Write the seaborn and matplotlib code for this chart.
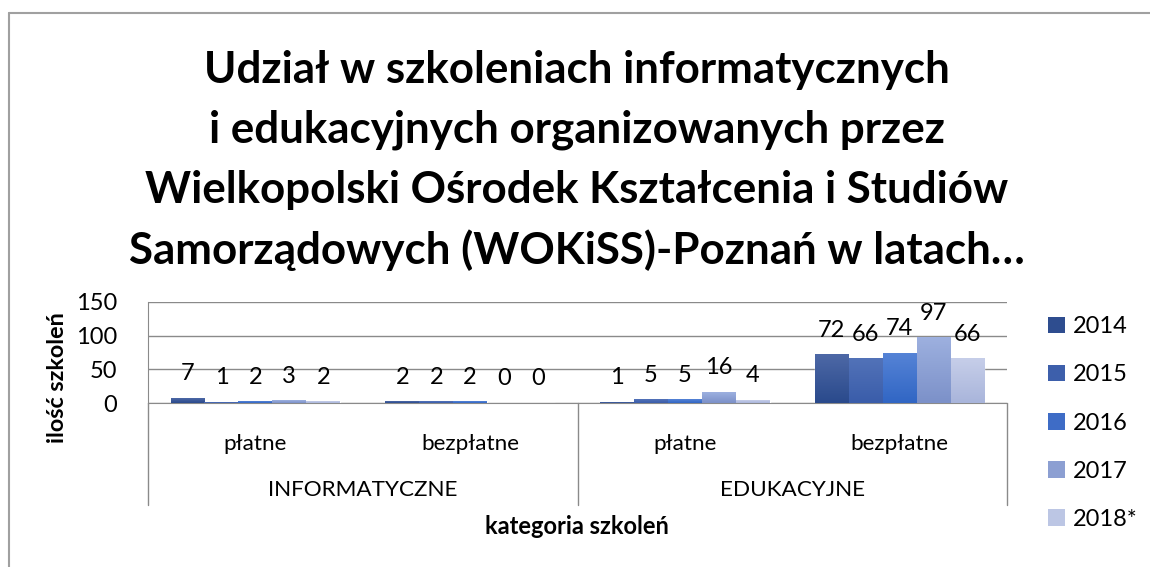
import numpy as np
import pandas as pd
import seaborn as sns
import matplotlib.pyplot as plt
from matplotlib.colors import LinearSegmentedColormap
from matplotlib.patches import Patch
from matplotlib.transforms import blended_transform_factory

# Dane
lata = ["2014", "2015", "2016", "2017", "2018*"]
grupy = ["INFORMATYCZNE", "EDUKACYJNE"]
rodzaje = ["płatne", "bezpłatne"]
inf_platne = [7, 1, 2, 3, 2]
inf_bezplatne = [2, 2, 2, 0, 0]
edu_platne = [1, 5, 5, 16, 4]
edu_bezplatne = [72, 66, 74, 97, 66]

tytul = ["Udział w szkoleniach informatycznych",
         "i edukacyjnych organizowanych przez",
         "Wielkopolski Ośrodek Kształcenia i Studiów",
         "Samorządowych (WOKiSS)-Poznań w latach…"]

# kolory gradientu (góra, dół) dla kolejnych lat
gradient = [("#4d68a6", "#2a4a8c"),
            ("#5272b8", "#3a5daa"),
            ("#5583d6", "#3166c4"),
            ("#9db0df", "#7c91c9"),
            ("#c6cee9", "#a9b5db")]
kolory_legendy = ["#2e4d8f", "#3d5fab", "#3e6cc6", "#8c9fd2", "#bcc6e4"]

serie = [inf_platne, inf_bezplatne, edu_platne, edu_bezplatne]
kategorie = [f"{g}|{r}" for g in grupy for r in rodzaje]
rows = []
for kat, wartosci in zip(kategorie, serie):
    for rok, v in zip(lata, wartosci):
        rows.append({"kategoria": kat, "rok": rok, "ilosc": v})
df = pd.DataFrame(rows)

sns.set_style("white")
plt.rcParams["font.family"] = ["Lato", "DejaVu Sans"]
plt.rcParams["text.color"] = "black"
plt.rcParams["xtick.color"] = "black"
plt.rcParams["ytick.color"] = "black"
szary = "#8a8a8a"

W, H = 1150, 567
fig = plt.figure(figsize=(W / 100, H / 100), dpi=100)


def fx(px):
    return px / W


def fy(py):
    return 1 - py / H


ax = fig.add_axes([fx(148), fy(403), fx(1007) - fx(148), fy(302) - fy(403)])

sns.barplot(data=df, x="kategoria", y="ilosc", hue="rok", order=kategorie,
            hue_order=lata, palette=kolory_legendy, width=0.79, ax=ax,
            legend=False, saturation=1, zorder=3)

# gradient na słupkach
for cont, (gora, dol) in zip(ax.containers, gradient):
    cmap = LinearSegmentedColormap.from_list("g", [dol, gora])
    for p in cont.patches:
        x0, y0 = p.get_x(), p.get_y()
        w, h = p.get_width(), p.get_height()
        if h <= 0:
            continue
        ax.imshow(np.linspace(0, 1, 50).reshape(-1, 1), cmap=cmap, origin="lower",
                  extent=[x0, x0 + w, y0, y0 + h], aspect="auto", zorder=3.5)
    ax.bar_label(cont, labels=[str(int(v)) for v in cont.datavalues],
                 padding=10, fontsize=17, color="black")

ax.set_xlim(-0.5, 3.5)
ax.set_ylim(0, 150)
ax.set_yticks([0, 50, 100, 150])
ax.yaxis.grid(True, color=szary, lw=1, zorder=0)
ax.tick_params(axis="y", length=9, color=szary, labelsize=17, pad=13,
               labelcolor="black")
ax.tick_params(axis="x", length=0, labelsize=16.2, pad=22, labelcolor="black")
ax.set_xticks(range(4))
ax.set_xticklabels(rodzaje * 2)
ax.set_xlabel("")
ax.set_ylabel("")
for s in ["top", "right"]:
    ax.spines[s].set_visible(False)
for s in ["left", "bottom"]:
    ax.spines[s].set_color(szary)

# dolny poziom osi kategorii
tr = blended_transform_factory(ax.transData, ax.transAxes)
dol_osi = -102 / 101
for xl in [-0.5, 1.5, 3.5]:
    ax.plot([xl, xl], [0, dol_osi], transform=tr, color=szary, lw=1, clip_on=False)
for i, g in enumerate(grupy):
    ax.text(2 * i + 0.5, -87 / 101, g, transform=tr, ha="center", va="center",
            fontsize=16.2)

# tytuły osi
fig.text(fx(57), fy(378), "ilość szkoleń", rotation=90, ha="center", va="center",
         fontsize=16.8, fontweight="bold")
fig.text(fx(577), fy(527), "kategoria szkoleń", ha="center", va="center",
         fontsize=17, fontweight="bold")

# tytuł wykresu
for i, linia in enumerate(tytul):
    fig.text(fx(577), fy(70 + 60 * i), linia, ha="center", va="center",
             fontsize=31.6, fontweight="bold")

# legenda
uchwyty = [Patch(facecolor=c, edgecolor="none") for c in kolory_legendy]
fig.legend(uchwyty, lata, loc="center left", bbox_to_anchor=(fx(1048), fy(423)),
           frameon=False, fontsize=17, handlelength=0.7, handleheight=0.7,
           handletextpad=0.35, labelspacing=1.15, borderpad=0, borderaxespad=0)

# ramka wykresu
fig.add_artist(plt.Line2D([fx(9), 1], [fy(13), fy(13)], color="#a0a0a0", lw=1.5))
fig.add_artist(plt.Line2D([fx(9), fx(9)], [0, fy(13)], color="#a0a0a0", lw=1.5))

fig.savefig("out.png", dpi=100)
